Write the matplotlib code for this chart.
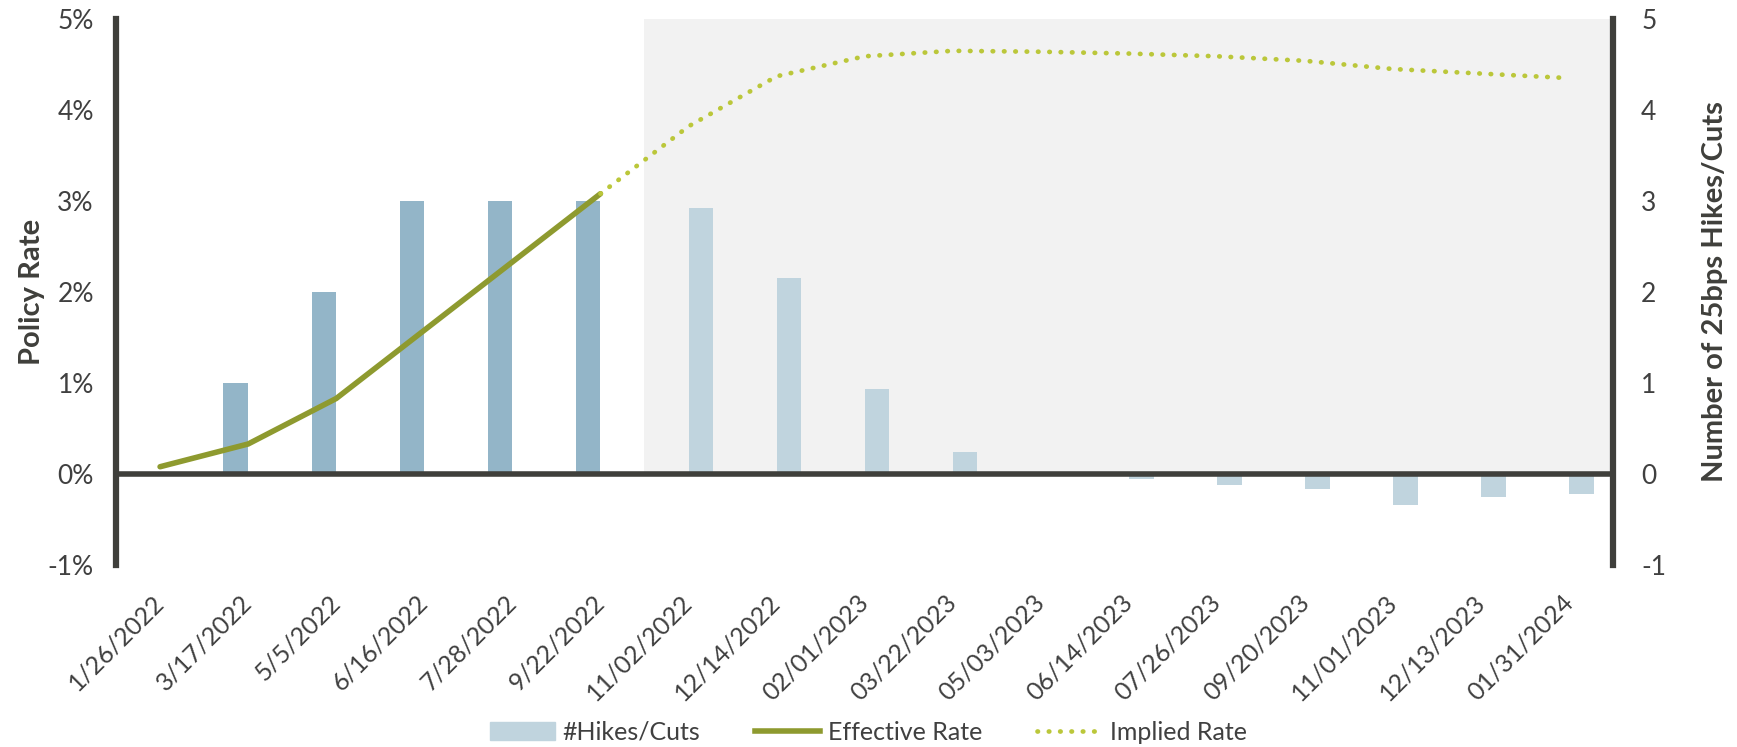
import matplotlib.pyplot as plt
from matplotlib.patches import Patch
from matplotlib.lines import Line2D
import numpy as np

# meeting dates
dates = ['1/26/2022', '3/17/2022', '5/5/2022', '6/16/2022', '7/28/2022', '9/22/2022',
         '11/02/2022', '12/14/2022', '02/01/2023', '03/22/2023', '05/03/2023', '06/14/2023',
         '07/26/2023', '09/20/2023', '11/01/2023', '12/13/2023', '01/31/2024']

# number of 25bp hikes/cuts (realised, then market implied)
hikes_actual = [0, 1, 2, 3, 3, 3]
hikes_implied = [2.92, 2.15, 0.93, 0.24, -0.01, -0.05, -0.12, -0.17, -0.34, -0.25, -0.22]

# policy rate in %
effective_rate = [0.08, 0.33, 0.83, 1.58, 2.33, 3.08]
implied_rate = [3.08, 3.82, 4.37, 4.59, 4.65, 4.64, 4.62, 4.59, 4.54, 4.45, 4.40, 4.35]

dark = '#3f3f3b'
txt = '#404040'
bar_dark = '#93b5c8'
bar_light = '#c0d4de'
eff_col = '#8e9a2f'
imp_col = '#bbc73a'
dots = (0, (0.1, 2.3))

plt.rcParams['font.family'] = ['Lato', 'DejaVu Sans']

fig = plt.figure(figsize=(17.37, 7.47), dpi=100)
ax = fig.add_axes([0.0668, 0.2436, 0.862, 0.731])
ax2 = ax.twinx()
ax.set_zorder(ax2.get_zorder() + 1)
ax.patch.set_visible(False)

x = np.arange(len(dates))
n_act = len(hikes_actual)
w = 0.28

# forecast shading and bars on the right axis
ax2.fill_between([n_act - 0.5, len(dates) - 0.5], 0, 5, color='#f2f2f2', zorder=0, lw=0)
ax2.bar(x[:n_act] - w / 2, hikes_actual, width=w, color=bar_dark, zorder=2)
ax2.bar(x[n_act:] + w / 2, hikes_implied, width=w, color=bar_light, zorder=2)

# rates on the left axis
ax.axhline(0, color=dark, lw=4, zorder=3)
ax.plot(x[:n_act], effective_rate, color=eff_col, lw=4, solid_capstyle='round', zorder=4)
ax.plot(x[n_act - 1:], implied_rate, color=imp_col, lw=3.4, linestyle=dots,
        dash_capstyle='round', zorder=4)

for a in (ax, ax2):
    a.set_xlim(-0.5, len(dates) - 0.5)
    a.set_ylim(-1, 5)
    a.set_yticks(range(-1, 6))
    for s in a.spines.values():
        s.set_visible(False)
    a.tick_params(length=0, labelsize=19, labelcolor=txt)

ax.spines['left'].set_visible(True)
ax.spines['left'].set_linewidth(4.5)
ax.spines['left'].set_color(dark)
ax2.spines['right'].set_visible(True)
ax2.spines['right'].set_linewidth(4.5)
ax2.spines['right'].set_color(dark)

ax.set_yticklabels([f'{v}%' for v in range(-1, 6)])
ax2.set_yticklabels([str(v) for v in range(-1, 6)])
ax.tick_params(axis='y', pad=16)
ax2.tick_params(axis='y', pad=20)

ax.set_xticks(x)
ax.set_xticklabels(dates, rotation=45, ha='right', va='center', rotation_mode='anchor')
ax.tick_params(axis='x', pad=24, labelsize=18)

ax.set_ylabel('Policy Rate', fontsize=21, fontweight='bold', color=dark, labelpad=2)
ax2.set_ylabel('Number of 25bps Hikes/Cuts', fontsize=21, fontweight='bold', color=dark, labelpad=26)

handles = [Patch(color=bar_light),
           Line2D([], [], color=eff_col, lw=4),
           Line2D([], [], color=imp_col, lw=3.4, linestyle=dots, dash_capstyle='round')]
fig.legend(handles, ['#Hikes/Cuts', 'Effective Rate', 'Implied Rate'], loc='center',
           bbox_to_anchor=(0.5, 0.02), ncol=3, frameon=False, fontsize=18,
           handlelength=2.6, columnspacing=2.2, handletextpad=0.3, labelcolor=txt)

fig.savefig('out.png', dpi=100)
